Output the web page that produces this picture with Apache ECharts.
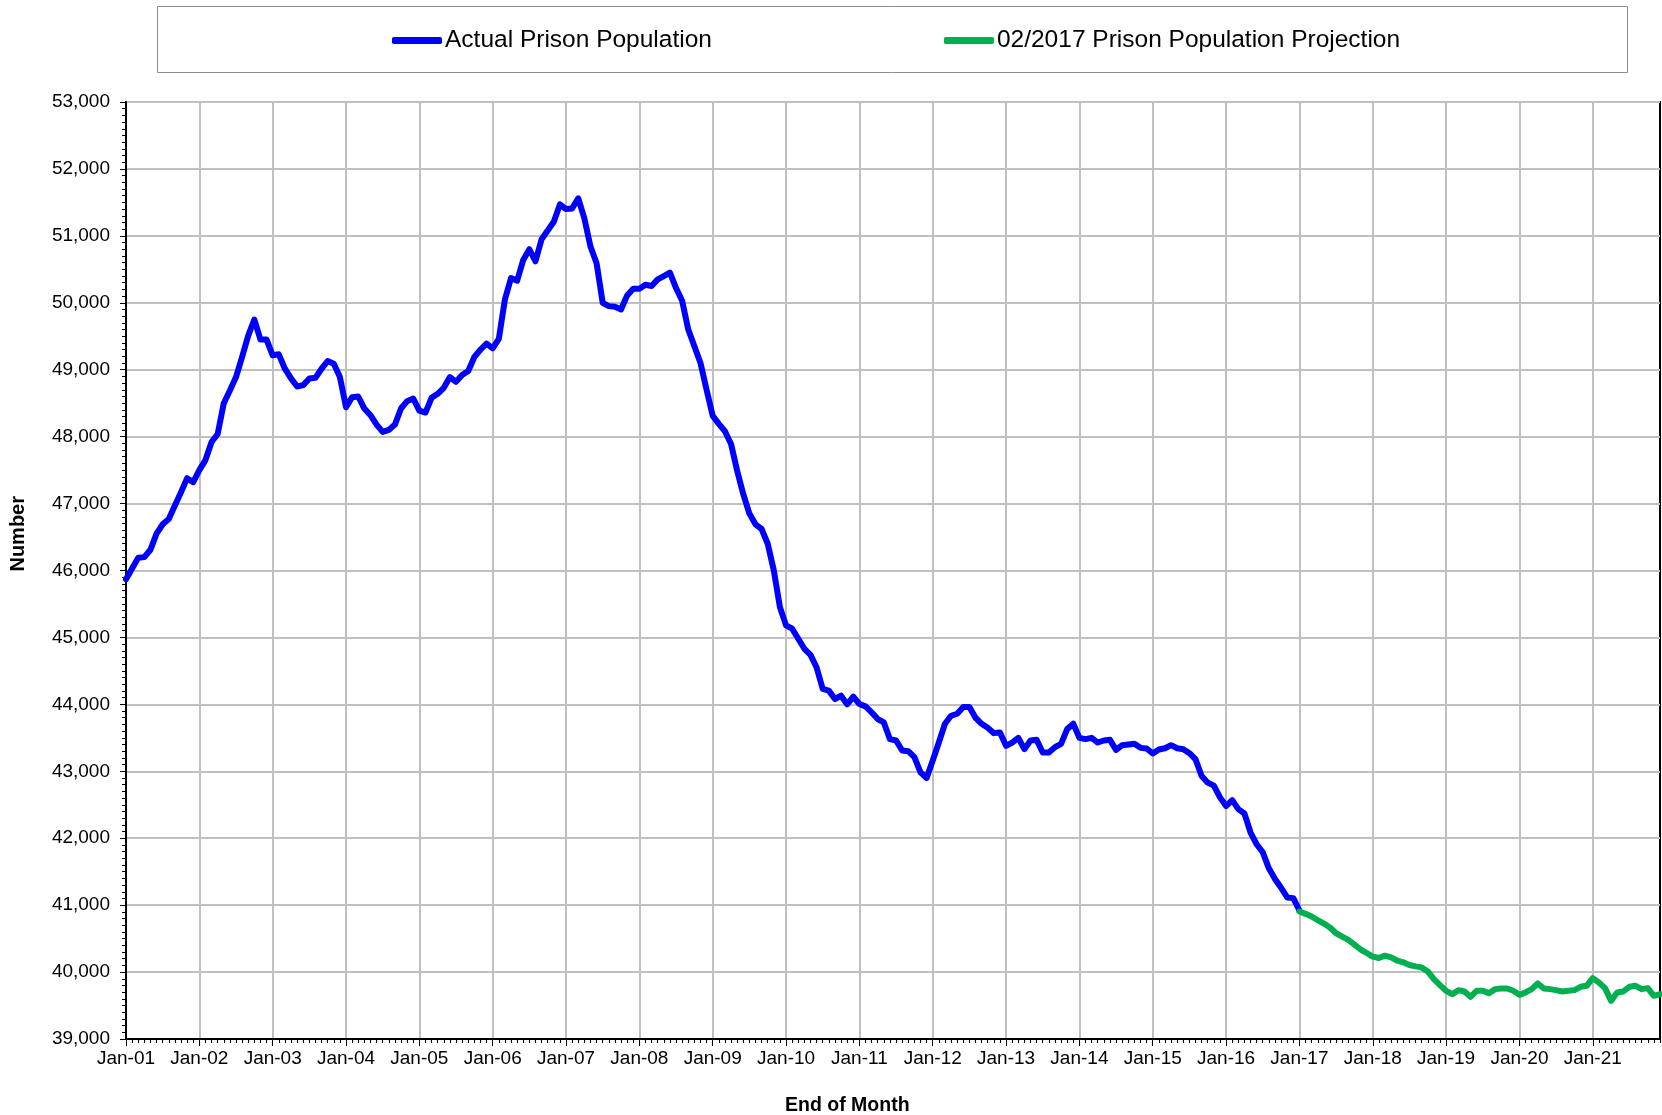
<!DOCTYPE html>
<html>
<head>
<meta charset="utf-8">
<script src="https://cdn.jsdelivr.net/npm/echarts@6/dist/echarts.min.js"></script>
<style>
  html, body { margin: 0; padding: 0; background: #fff; }
  #chart { width: 1662px; height: 1115px; }
</style>
</head>
<body>
<div id="chart"></div>
<script>
// month names used for the category labels (Jan-01 .. Dec-21)
var monthNames = ['Jan', 'Feb', 'Mar', 'Apr', 'May', 'Jun', 'Jul', 'Aug', 'Sep', 'Oct', 'Nov', 'Dec'];
var yearLabels = ['01', '02', '03', '04', '05', '06', '07', '08', '09', '10', '11',
                  '12', '13', '14', '15', '16', '17', '18', '19', '20', '21'];

// actual population, end of month, Jan-01 .. Jan-17
var actualPop = [
    45870, 46030, 46190, 46200, 46310, 46550, 46690, 46770, 46970, 47170, 47380, 47320,
    47500, 47650, 47920, 48040, 48500, 48690, 48890, 49190, 49510, 49750, 49450, 49450,
    49215, 49230, 49015, 48870, 48750, 48770, 48870, 48880, 49015, 49130, 49090, 48890,
    48440, 48590, 48600, 48420, 48320, 48180, 48070, 48100, 48180, 48420, 48530, 48570,
    48390, 48360, 48580, 48640, 48730, 48890, 48820, 48920, 48980, 49190, 49300, 49390,
    49320, 49460, 50050, 50370, 50330, 50640, 50800, 50620, 50950, 51080, 51210, 51470,
    51400, 51410, 51560, 51260, 50840, 50590, 50000, 49950, 49940, 49900, 50110, 50210,
    50210, 50270, 50250, 50350, 50400, 50450, 50220, 50030, 49600, 49350, 49100, 48700,
    48310, 48190, 48080, 47890, 47490, 47140, 46850, 46690, 46620, 46400, 46000, 45450,
    45180, 45130, 44980, 44830, 44740, 44550, 44230, 44205, 44080, 44130, 44000, 44115,
    44005, 43970, 43880, 43780, 43730, 43480, 43460, 43310, 43300, 43210, 42985, 42900,
    43160, 43430, 43710, 43830, 43860, 43960, 43960, 43800, 43710, 43650, 43570, 43580,
    43380, 43430, 43500, 43330, 43460, 43470, 43280, 43280, 43360, 43410, 43630, 43710,
    43500, 43480, 43500, 43430, 43460, 43470, 43320, 43390, 43400, 43410, 43350, 43340,
    43265, 43325, 43345, 43390, 43345, 43330, 43270, 43180, 42930, 42830, 42785, 42610,
    42480, 42570, 42435, 42370, 42085, 41910, 41790, 41550, 41390, 41260, 41115, 41105,
    40920
];

// 02/2017 projection, Jan-17 .. Dec-21
var projStart = 192;
var projPop = [
    40905, 40870, 40830, 40775, 40725, 40665, 40580, 40530, 40480, 40410, 40340, 40285,
    40230, 40210, 40245, 40220, 40170, 40145, 40105, 40085, 40070, 40010, 39895, 39805,
    39720, 39670, 39730, 39710, 39630, 39720, 39720, 39685, 39745, 39755, 39755, 39720,
    39660, 39695, 39745, 39830, 39755, 39745, 39730, 39710, 39720, 39730, 39780, 39795,
    39910, 39845, 39760, 39570, 39695, 39710, 39780, 39795, 39745, 39760, 39645, 39670
];

var categories = [];
for (var y = 0; y < yearLabels.length; y++) {
    for (var m = 0; m < 12; m++) {
        categories.push(monthNames[m] + '-' + yearLabels[y]);
    }
}

var projData = [];
for (var i = 0; i < categories.length; i++) {
    var k = i - projStart;
    projData.push(k >= 0 && k < projPop.length ? projPop[k] : null);
}

var fontName = '"Liberation Sans", Arial, sans-serif';
var myChart = echarts.init(document.getElementById('chart'));

var option = {
    backgroundColor: '#ffffff',
    animation: false,
    textStyle: { fontFamily: fontName },
    graphic: [
        {
            type: 'rect', z: -1,
            shape: { x: 157.5, y: 6.5, width: 1470, height: 66 },
            style: { fill: '#fff', stroke: '#8c8c8c', lineWidth: 1 }
        },
        {
            type: 'text', left: 8, top: 496, rotation: Math.PI / 2,
            style: { text: 'Number', font: 'bold 20px ' + fontName, fill: '#000' }
        },
        {
            type: 'text', left: 785, top: 1096,
            style: { text: 'End of Month', font: 'bold 19.5px ' + fontName, fill: '#000' }
        }
    ],
    legend: {
        left: 392,
        top: 28,
        padding: 0,
        itemWidth: 50,
        itemHeight: 7,
        itemGap: 232,
        icon: 'roundRect',
        textStyle: { fontSize: 24.5, color: '#000', fontFamily: fontName, padding: [0, 0, 0, -2] },
        data: ['Actual Prison Population', '02/2017 Prison Population Projection']
    },
    grid: {
        left: 126, right: 2, top: 102, bottom: 76,
        show: true, borderColor: '#000', borderWidth: 2
    },
    xAxis: [{
        type: 'category',
        data: categories,
        boundaryGap: false,
        axisLine: { lineStyle: { color: '#000', width: 2 } },
        axisTick: { interval: 0, length: 4, lineStyle: { color: '#000' } },
        axisLabel: { interval: 11, margin: 10, fontSize: 19, color: '#000' },
        splitLine: { show: true, interval: 11, lineStyle: { color: '#c0c0c0', width: 2 } }
    }, {
        type: 'category',
        data: categories,
        boundaryGap: false,
        position: 'bottom',
        axisLine: { show: false },
        axisTick: { interval: 11, length: 7, lineStyle: { color: '#000' } },
        axisLabel: { show: false },
        splitLine: { show: false }
    }],
    yAxis: {
        type: 'value',
        min: 39000,
        max: 53000,
        interval: 1000,
        axisLine: { show: true, lineStyle: { color: '#000', width: 2 } },
        axisTick: { show: true, length: 6, lineStyle: { color: '#000' } },
        minorTick: { show: true, splitNumber: 10, length: 4, lineStyle: { color: '#000' } },
        axisLabel: {
            margin: 16, fontSize: 19, color: '#000',
            formatter: function (v) { return v.toLocaleString('en-US'); }
        },
        splitLine: { lineStyle: { color: '#c0c0c0', width: 2 } }
    },
    series: [{
        name: 'Actual Prison Population',
        type: 'line',
        data: actualPop,
        showSymbol: false,
        color: '#0000ff',
        lineStyle: { width: 6, color: '#0000ff', cap: 'round', join: 'round' },
        z: 3
    }, {
        name: '02/2017 Prison Population Projection',
        type: 'line',
        data: projData,
        showSymbol: false,
        color: '#00b050',
        lineStyle: { width: 6, color: '#00b050', cap: 'round', join: 'round' },
        z: 4
    }]
};

myChart.setOption(option);
window.addEventListener('resize', function () {
    myChart.resize();
});
</script>
</body>
</html>
